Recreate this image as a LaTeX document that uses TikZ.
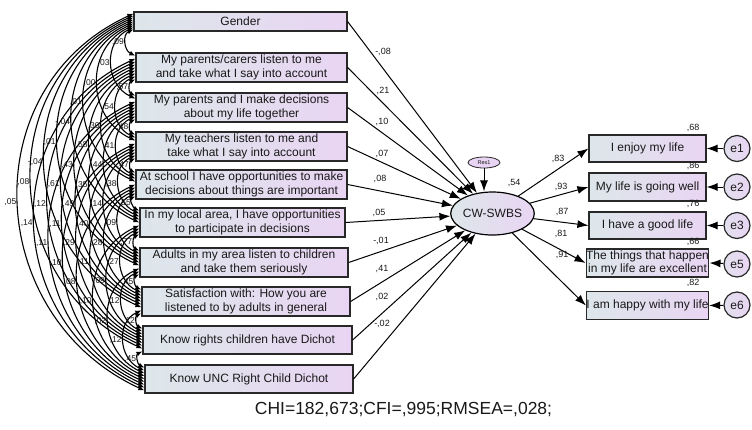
\documentclass[tikz,border=0pt]{standalone}
\usepackage{fontspec}
\setmainfont{Liberation Sans}
\usetikzlibrary{arrows.meta,shapes.geometric,calc}
\definecolor{boxL}{RGB}{221,230,234}
\definecolor{boxR}{RGB}{233,213,243}
\definecolor{edgec}{RGB}{40,40,40}
\definecolor{txt}{RGB}{25,25,25}
\tikzset{
  lbox/.style={draw=edgec, line width=1.2pt, left color=boxL, right color=boxR,
    align=center, inner sep=0pt, text=txt, font=\fontsize{12}{13.3}\selectfont},
  covline/.style={draw=black, line width=1.1pt, {Latex[length=6pt,width=5pt]}-{Latex[length=6pt,width=5pt]}},
  covlab/.style={anchor=east, inner sep=0.5pt, text=txt, font=\fontsize{8.5}{9}\selectfont},
  pathline/.style={draw=black, line width=1pt, -{Latex[length=11pt,width=8pt]}},
  plab/.style={inner sep=0pt, text=txt, font=\fontsize{9}{10}\selectfont},
  ecirc/.style={circle, draw=edgec, line width=1.2pt, left color=boxL!60!boxR, right color=boxR,
    minimum size=26pt, inner sep=0pt, text=txt, font=\fontsize{12}{13}\selectfont}
}
\newcommand\covarc[3]{%
 \pgfmathsetmacro\fa{0.06+0.88*((#1-1)+(10-#2)+0.5)/9}%
 \pgfmathsetmacro\fb{0.06+0.88*((#2-1-#1)+0.5)/9}%
 \draw[covline] let \p1=($(b#1.north west)!\fa!(b#1.south west)$),
   \p2=($(b#2.north west)!\fb!(b#2.south west)$),
   \n1={(\y1-\y2)/2} in
   (\p1) .. controls ({\x1-0.854*\n1},{\y1-0.393*\n1}) and ({\x2-0.854*\n1},{\y2+0.393*\n1}) .. (\p2)
   node[covlab] (c#1x#2) at ({(\x1+\x2)/2-0.64*\n1-1pt},{(\y1+\y2)/2}) {#3};%
}
\begin{document}
\begin{tikzpicture}[x=1pt,y=-1pt]
\useasboundingbox (0,0) rectangle (752,429);
\fill[white] (0,0) rectangle (752,429);

% left boxes
\node[lbox, minimum width=213pt, minimum height=19pt] (b1) at (240.5,21.5) {Gender};
\node[lbox, minimum width=211pt, minimum height=29pt] (b2) at (241.5,67.5) {My parents/carers listen to me\\and take what I say into account};
\node[lbox, minimum width=211pt, minimum height=29pt] (b3) at (241.5,107.5) {My parents and I make decisions\\about my life together};
\node[lbox, minimum width=211pt, minimum height=29pt] (b4) at (241.5,146.5) {My teachers listen to me and\\take what I say into account};
\node[lbox, minimum width=211pt, minimum height=29pt] (b5) at (241.5,184.5) {At school I have opportunities to make\\decisions about things are important};
\node[lbox, minimum width=205pt, minimum height=29pt] (b6) at (242.5,222.5) {In my local area, I have opportunities\\to participate in decisions};
\node[lbox, minimum width=208pt, minimum height=29pt] (b7) at (244,262.5) {Adults in my area listen to children\\and take them seriously};
\node[lbox, minimum width=208pt, minimum height=29pt] (b8) at (246,301.5) {Satisfaction with: How you are\\listened to by adults in general};
\node[lbox, minimum width=209pt, minimum height=28pt] (b9) at (247.5,340) {Know rights children have Dichot};
\node[lbox, minimum width=208pt, minimum height=28pt] (b10) at (249,379) {Know UNC Right Child Dichot};

% covariance arcs
\covarc{1}{10}{,05}
\covarc{1}{9}{,08}
\covarc{2}{10}{,14}
\covarc{1}{8}{-,04}
\covarc{2}{9}{,12}
\covarc{3}{10}{,11}
\covarc{1}{7}{,01}
\covarc{2}{8}{,61}
\covarc{3}{9}{,11}
\covarc{4}{10}{,10}
\covarc{1}{6}{-,04}
\covarc{2}{7}{,43}
\covarc{3}{8}{,49}
\covarc{4}{9}{,29}
\covarc{5}{10}{,08}
\covarc{1}{5}{,01}
\covarc{2}{6}{,58}
\covarc{3}{7}{,35}
\covarc{4}{8}{,40}
\covarc{5}{9}{,11}
\covarc{6}{10}{,10}
\covarc{1}{4}{,00}
\covarc{2}{5}{,30}
\covarc{3}{6}{,44}
\covarc{4}{7}{,14}
\covarc{5}{8}{,28}
\covarc{6}{9}{,09}
\covarc{7}{10}{,02}
\covarc{1}{3}{,03}
\covarc{2}{4}{,54}
\covarc{3}{5}{,41}
\covarc{4}{6}{,38}
\covarc{5}{7}{,09}
\covarc{6}{8}{,27}
\covarc{7}{9}{,12}
\covarc{8}{10}{,12}
\covarc{1}{2}{,09}
\covarc{2}{3}{,57}
\covarc{3}{4}{,48}
\covarc{4}{5}{,47}
\covarc{5}{6}{,55}
\covarc{6}{7}{,77}
\covarc{7}{8}{,45}
\covarc{8}{9}{,12}
\covarc{9}{10}{,45}

% latent variable
\node[ellipse, draw=black, line width=1.2pt, left color=boxL, right color=boxR,
  minimum width=65pt, minimum height=43pt, inner sep=0pt, text=txt,
  font=\fontsize{12}{13}\selectfont] (cw) at (492.5,213.5) {CW-SWBS};
\node[ellipse, draw=edgec, line width=0.8pt, fill=boxR, minimum width=32pt, minimum height=11pt,
  inner sep=0pt, text=txt, font=\fontsize{5.5}{6}\selectfont] (res) at (484,162.5) {Res1};
\node[plab] (r2cw) at (514,183) {,54};

% paths to latent
\foreach \i in {1,...,10} { \draw[pathline] (b\i.east) -- (cw); }
\draw[pathline] (res.south) -- (res.south |- cw.north);
\node[plab] (pl1) at (383,52) {-,08};
\node[plab] (pl2) at (383,91) {,21};
\node[plab] (pl3) at (382,122) {,10};
\node[plab] (pl4) at (382,154) {,07};
\node[plab] (pl5) at (380,179) {,08};
\node[plab] (pl6) at (379,213) {,05};
\node[plab] (pl7) at (381,241) {-,01};
\node[plab] (pl8) at (382,269) {,41};
\node[plab] (pl9) at (382,297) {,02};
\node[plab] (pl10) at (382,324) {-,02};

% right indicators
\node[lbox, minimum width=117pt, minimum height=27pt] (r1) at (647.5,148.5) {I enjoy my life};
\node[lbox, minimum width=117pt, minimum height=28pt] (r2) at (647.5,187) {My life is going well};
\node[lbox, minimum width=117pt, minimum height=27pt] (r3) at (647.5,225.5) {I have a good life};
\node[lbox, minimum width=117pt, minimum height=28pt] (r5) at (647.5,263) {The things that happen\\in my life are excellent};
\node[lbox, minimum width=117pt, minimum height=28pt] (r6) at (647.5,305.5) {I am happy with my life};

\foreach \r in {1,2,3,5,6} { \draw[pathline] (cw) -- (r\r.west); }
\node[plab] (l1) at (558,159) {,83};
\node[plab] (l2) at (561,187) {,93};
\node[plab] (l3) at (562,212) {,87};
\node[plab] (l5) at (561,234) {,81};
\node[plab] (l6) at (562,255) {,91};

\node[plab] (q1) at (693,128) {,68};
\node[plab] (q2) at (693,166) {,86};
\node[plab] (q3) at (693,204) {,76};
\node[plab] (q5) at (693,242) {,66};
\node[plab] (q6) at (693,283) {,82};

\node[ecirc] (e1) at (737,148.5) {e1};
\node[ecirc] (e2) at (737,187) {e2};
\node[ecirc] (e3) at (737,225.5) {e3};
\node[ecirc] (e5) at (737,264) {e5};
\node[ecirc] (e6) at (737,305) {e6};
\foreach \r in {1,2,3,5,6} { \draw[pathline] (e\r) -- (r\r.east); }

\node[inner sep=0pt, text=txt, font=\fontsize{17.5}{19}\selectfont] (fit) at (403.5,410) {CHI=182,673;CFI=,995;RMSEA=,028;};
\end{tikzpicture}
\end{document}
